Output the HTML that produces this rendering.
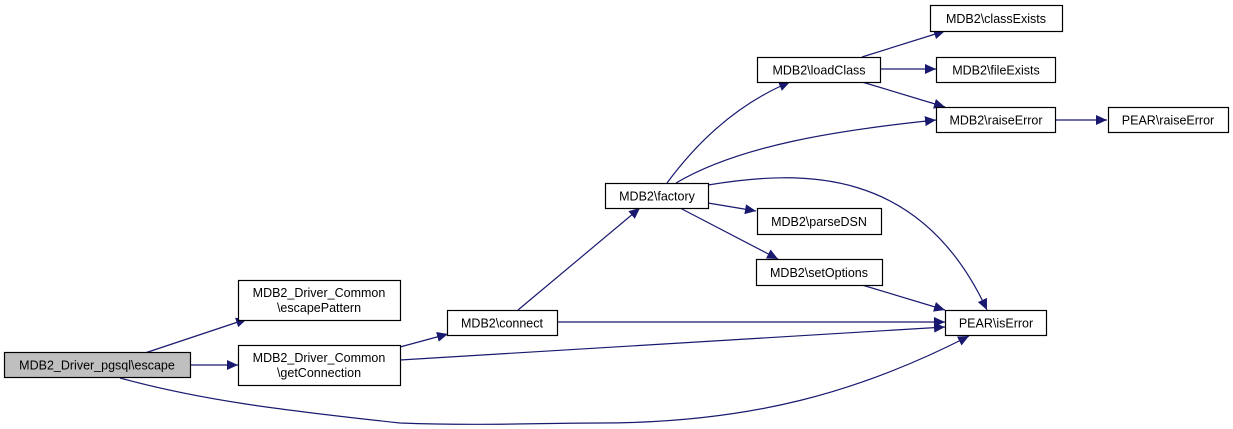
<!DOCTYPE html>
<html><head><meta charset="utf-8"><style>
html,body{margin:0;padding:0;background:#fff;}
svg{display:block;}
text{font-family:"Liberation Sans",Helvetica,Arial,sans-serif;font-size:12.5px;fill:#000;}
.b{fill:#fff;stroke:#000;stroke-width:1.2;}
.e{fill:none;stroke:#191970;stroke-width:1.2;}
</style></head><body>
<svg width="1233" height="429" viewBox="0 0 1233 429" xmlns="http://www.w3.org/2000/svg">
<defs>
<marker id="a" markerWidth="12" markerHeight="10" refX="11" refY="5" orient="auto" markerUnits="userSpaceOnUse">
<path d="M0,0 L11,5 L0,10 Z" fill="#191970"/>
</marker>
</defs>
<!-- edges -->
<path class="e" marker-end="url(#a)" d="M145,353 L247,319"/>
<path class="e" marker-end="url(#a)" d="M191,365 L238,365"/>
<path class="e" marker-end="url(#a)" d="M120,378 C200,400 280,410 400,423 C480,426 540,423 600,423 C750,423 860,392 969,336"/>
<path class="e" marker-end="url(#a)" d="M400,347 L448,334"/>
<path class="e" marker-end="url(#a)" d="M400,360 L945,327"/>
<path class="e" marker-end="url(#a)" d="M557,322 L945,322"/>
<path class="e" marker-end="url(#a)" d="M518,310 L640,208"/>
<path class="e" marker-end="url(#a)" d="M667,183 C695,145 735,105 790,82"/>
<path class="e" marker-end="url(#a)" d="M676,183 C740,145 840,130 936,120"/>
<path class="e" marker-end="url(#a)" d="M708,185 C800,170 920,165 987,310"/>
<path class="e" marker-end="url(#a)" d="M708,203 L756,211"/>
<path class="e" marker-end="url(#a)" d="M680,208 L778,259"/>
<path class="e" marker-end="url(#a)" d="M862,285 L945,310"/>
<path class="e" marker-end="url(#a)" d="M862,57 L945,31"/>
<path class="e" marker-end="url(#a)" d="M880,69 L936,69"/>
<path class="e" marker-end="url(#a)" d="M862,82 L945,107"/>
<path class="e" marker-end="url(#a)" d="M1055,120 L1107,120"/>
<!-- nodes -->
<rect x="4.5" y="352.5" width="186" height="25" fill="#bfbfbf" stroke="#000" stroke-width="1.2"/>
<text x="97" y="369.5" text-anchor="middle">MDB2_Driver_pgsql\escape</text>
<rect class="b" x="238.5" y="280.5" width="162" height="40"/>
<text x="319" y="297" text-anchor="middle">MDB2_Driver_Common</text>
<text x="319" y="312" text-anchor="middle">\escapePattern</text>
<rect class="b" x="238.5" y="345.5" width="162" height="40"/>
<text x="319" y="362" text-anchor="middle">MDB2_Driver_Common</text>
<text x="319" y="377" text-anchor="middle">\getConnection</text>
<rect class="b" x="447.5" y="310.5" width="110" height="25"/>
<text x="502" y="327.5" text-anchor="middle">MDB2\connect</text>
<rect class="b" x="605.5" y="183.5" width="103" height="25"/>
<text x="657" y="200.5" text-anchor="middle">MDB2\factory</text>
<rect class="b" x="757.5" y="57.5" width="123" height="25"/>
<text x="819" y="74.5" text-anchor="middle">MDB2\loadClass</text>
<rect class="b" x="930.5" y="5.5" width="132" height="26"/>
<text x="996" y="23" text-anchor="middle">MDB2\classExists</text>
<rect class="b" x="936.5" y="57.5" width="119" height="25"/>
<text x="996" y="74.5" text-anchor="middle">MDB2\fileExists</text>
<rect class="b" x="936.5" y="107.5" width="119" height="25"/>
<text x="996" y="124.5" text-anchor="middle">MDB2\raiseError</text>
<rect class="b" x="1108.5" y="107.5" width="120" height="25"/>
<text x="1168" y="124.5" text-anchor="middle">PEAR\raiseError</text>
<rect class="b" x="757.5" y="208.5" width="124" height="26"/>
<text x="819" y="226" text-anchor="middle">MDB2\parseDSN</text>
<rect class="b" x="756.5" y="259.5" width="126" height="26"/>
<text x="819" y="277" text-anchor="middle">MDB2\setOptions</text>
<rect class="b" x="945.5" y="310.5" width="101" height="25"/>
<text x="996" y="327.5" text-anchor="middle">PEAR\isError</text>
</svg>
</body></html>
